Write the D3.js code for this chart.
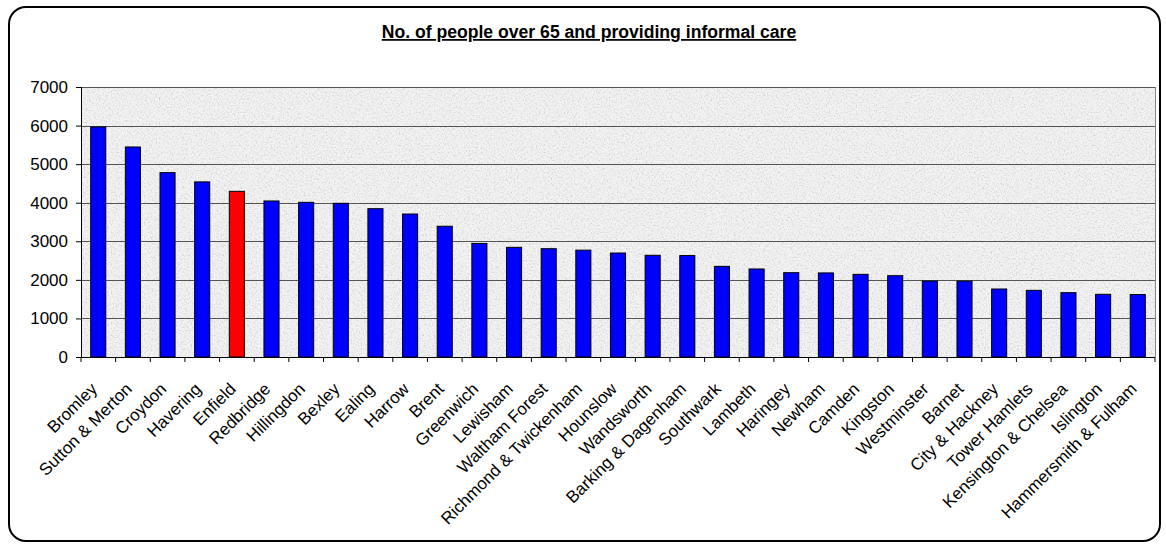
<!DOCTYPE html>
<html>
<head>
<meta charset="utf-8">
<script src="https://cdn.jsdelivr.net/npm/d3@7"></script>
<style>
  body { margin: 0; background: #fff; }
  svg { display: block; font-family: "Liberation Sans", Arial, sans-serif; }
</style>
</head>
<body>
<svg width="1166" height="544"></svg>
<script>
// boroughs and counts
var boroughs = ["Bromley", "Sutton & Merton", "Croydon", "Havering", "Enfield", "Redbridge",
  "Hillingdon", "Bexley", "Ealing", "Harrow", "Brent", "Greenwich", "Lewisham",
  "Waltham Forest", "Richmond & Twickenham", "Hounslow", "Wandsworth", "Barking & Dagenham",
  "Southwark", "Lambeth", "Haringey", "Newham", "Camden", "Kingston", "Westminster",
  "Barnet", "City & Hackney", "Tower Hamlets", "Kensington & Chelsea", "Islington",
  "Hammersmith & Fulham"];
var carers = [5965, 5445, 4780, 4540, 4295, 4045, 4010, 3985, 3845, 3707, 3390, 2945, 2843,
  2808, 2770, 2696, 2637, 2630, 2350, 2282, 2186, 2180, 2143, 2108, 1970, 1968, 1763,
  1728, 1668, 1625, 1620];
var yTicks = [0, 1000, 2000, 3000, 4000, 5000, 6000, 7000];
var highlight = "Enfield";

var margin = {top: 87, left: 81},
    plotW = 1074,
    plotH = 270;

var svg = d3.select("svg");

// granite-ish background texture
var defs = svg.append("defs");
var f = defs.append("filter").attr("id", "granite")
  .attr("x", 0).attr("y", 0).attr("width", "100%").attr("height", "100%");
f.append("feFlood").attr("flood-color", "#f3f3f3").attr("result", "bg");
f.append("feTurbulence").attr("type", "fractalNoise").attr("baseFrequency", 0.6)
  .attr("numOctaves", 3).attr("seed", 7).attr("result", "noise");
f.append("feColorMatrix").attr("in", "noise").attr("type", "matrix")
  .attr("values", "0 0 0 0 0.6  0 0 0 0 0.6  0 0 0 0 0.6  2.2 0 0 0 -1.0")
  .attr("result", "spk");
var mg = f.append("feMerge");
mg.append("feMergeNode").attr("in", "bg");
mg.append("feMergeNode").attr("in", "spk");

// outer frame
svg.append("rect")
  .attr("x", 9).attr("y", 7).attr("width", 1151).attr("height", 534)
  .attr("rx", 17).attr("ry", 17)
  .attr("fill", "#fff").attr("stroke", "#000").attr("stroke-width", 2);

// title
svg.append("text")
  .attr("x", 589).attr("y", 38)
  .attr("text-anchor", "middle")
  .attr("font-size", 17.6).attr("font-weight", "bold")
  .attr("text-decoration", "underline")
  .text("No. of people over 65 and providing informal care");

var g = svg.append("g")
  .attr("transform", "translate(" + margin.left + "," + margin.top + ")");

var xScale = d3.scaleBand()
  .domain(boroughs)
  .range([0, plotW])
  .paddingInner(0.565)
  .paddingOuter(0.28);

var yScale = d3.scaleLinear()
  .domain([0, 7000])
  .range([plotH, 0]);

g.append("rect")
  .attr("width", plotW).attr("height", plotH)
  .attr("filter", "url(#granite)");

// gridlines
g.append("g")
  .selectAll("line")
  .data(yTicks.slice(1))
  .enter()
  .append("line")
  .attr("x1", 0).attr("x2", plotW)
  .attr("y1", function(d) { return Math.round(yScale(d)) + 0.5; })
  .attr("y2", function(d) { return Math.round(yScale(d)) + 0.5; })
  .attr("stroke", "#555").attr("stroke-width", 1);

// right edge of plot
g.append("line")
  .attr("x1", plotW + 0.5).attr("x2", plotW + 0.5)
  .attr("y1", 0).attr("y2", plotH)
  .attr("stroke", "#888");

// bars
g.append("g")
  .selectAll("rect")
  .data(boroughs)
  .enter()
  .append("rect")
  .attr("x", function(d) { return xScale(d); })
  .attr("y", function(d, i) { return yScale(carers[i]); })
  .attr("width", xScale.bandwidth())
  .attr("height", function(d, i) { return plotH - yScale(carers[i]); })
  .attr("fill", function(d) { return d === highlight ? "#ff0000" : "#0000ff"; })
  .attr("stroke", "#000").attr("stroke-width", 1);

// y axis
var y_axis = d3.axisLeft(yScale).tickValues(yTicks).tickSize(5).tickPadding(8)
  .tickFormat(d3.format("d"));
var ya = g.append("g").call(y_axis);
ya.select(".domain").attr("stroke", "#000");
ya.selectAll("text").attr("font-size", 17).attr("fill", "#000")
  .style("font-family", "'Liberation Sans', Arial, sans-serif");

// x axis: ticks at band boundaries
var bounds = d3.range(boroughs.length + 1).map(function(i) { return i * plotW / boroughs.length; });
var xa = g.append("g").attr("transform", "translate(0," + plotH + ")");
xa.append("line").attr("x1", 0).attr("x2", plotW).attr("y1", 0.5).attr("y2", 0.5)
  .attr("stroke", "#000");
xa.selectAll("line.tick")
  .data(bounds)
  .enter()
  .append("line")
  .attr("class", "tick")
  .attr("x1", function(d) { return d; }).attr("x2", function(d) { return d; })
  .attr("y1", 0).attr("y2", 5)
  .attr("stroke", "#000");

xa.selectAll("text")
  .data(boroughs)
  .enter()
  .append("text")
  .attr("transform", function(d) {
    var cx = xScale(d) + xScale.bandwidth() / 2;
    return "translate(" + cx + ",33) rotate(-45)";
  })
  .attr("text-anchor", "end")
  .attr("font-size", 17)
  .text(function(d) { return d; });
</script>
</body>
</html>
